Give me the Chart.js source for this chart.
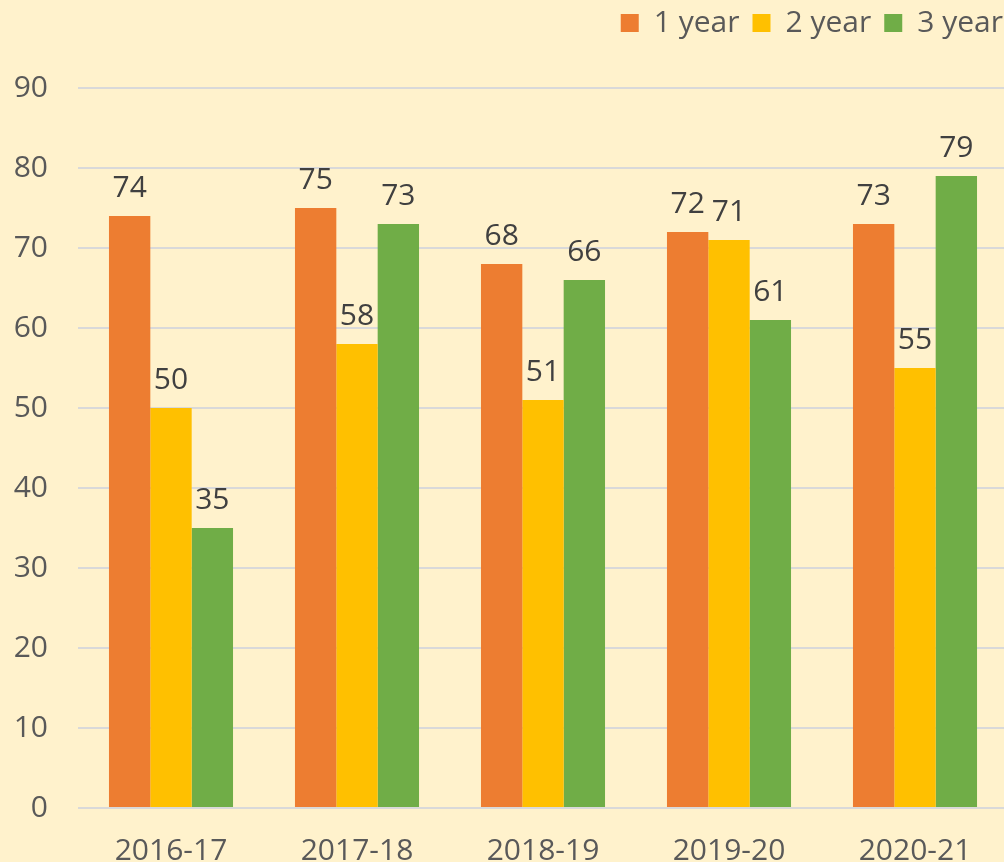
<!DOCTYPE html>
<html>
<head>
<meta charset="utf-8">
<script src="https://cdn.jsdelivr.net/npm/chart.js@4"></script>
<style>
  html, body { margin: 0; padding: 0; background: #FFF2CC; overflow: hidden; }
  #wrap { width: 1008px; height: 862px; }
</style>
</head>
<body>
<div id="wrap"><canvas id="chart"></canvas></div>
<script>
const categories = ['2016-17', '2017-18', '2018-19', '2019-20', '2020-21'];
const oneYear = [74, 75, 68, 72, 73];
const twoYear = [50, 58, 51, 71, 55];
const threeYear = [35, 73, 66, 61, 79];
const yTicks = [0, 10, 20, 30, 40, 50, 60, 70, 80, 90];

const FONT = "'Open Sans', 'Liberation Sans', sans-serif";
const FSIZE = 30;

// draws the value above each bar
const barLabels = {
  id: 'barLabels',
  afterDatasetsDraw(chart) {
    const ctx = chart.ctx;
    ctx.save();
    ctx.font = FSIZE + 'px ' + FONT;
    ctx.fillStyle = '#404040';
    ctx.textAlign = 'center';
    ctx.textBaseline = 'alphabetic';
    chart.data.datasets.forEach((ds, i) => {
      chart.getDatasetMeta(i).data.forEach((bar, j) => {
        ctx.fillText(ds.data[j], bar.x, bar.y - 19);
      });
    });
    ctx.restore();
  }
};

// fixed legend height so the plot starts at the same place,
// and nudge the legend a bit up and right
const legendHeight = {
  id: 'legendHeight',
  afterInit(chart) {
    const legend = chart.legend;
    const origFit = legend.fit.bind(legend);
    legend.fit = function () { origFit(); this.height = 88; };
  },
  afterLayout(chart) {
    const l = chart.legend;
    l.left += 8;
    l.right += 8;
    l.top -= 5;
  }
};

new Chart(document.getElementById('chart'), {
  type: 'bar',
  data: {
    labels: categories,
    datasets: [
      { label: '1 year', data: oneYear, backgroundColor: '#ED7D31' },
      { label: '2 year', data: twoYear, backgroundColor: '#FFC000' },
      { label: '3 year', data: threeYear, backgroundColor: '#70AD47' },
    ],
  },
  options: {
    responsive: true,
    maintainAspectRatio: false,
    animation: false,
    layout: { padding: 0 },
    datasets: {
      bar: { barPercentage: 1, categoryPercentage: 0.667 },
    },
    plugins: {
      tooltip: { enabled: false },
      legend: {
        position: 'top',
        align: 'end',
        labels: {
          boxWidth: 18,
          boxHeight: 18,
          padding: 13,
          color: '#595959',
          font: { family: FONT, size: FSIZE },
        },
      },
    },
    scales: {
      x: {
        grid: { display: false },
        border: { display: false },
        ticks: { color: '#595959', font: { family: FONT, size: FSIZE }, padding: 17 },
        afterFit(scale) { scale.height = 54; },
      },
      y: {
        min: 0,
        max: 90,
        afterBuildTicks(scale) { scale.ticks = yTicks.map((v) => ({ value: v })); },
        grid: { color: '#D9D9D9', lineWidth: 2, drawTicks: false },
        border: { display: false },
        ticks: { color: '#595959', font: { family: FONT, size: FSIZE }, padding: 30 },
        afterFit(scale) { scale.width = 78; },
      },
    },
  },
  plugins: [barLabels, legendHeight],
});
</script>
</body>
</html>
